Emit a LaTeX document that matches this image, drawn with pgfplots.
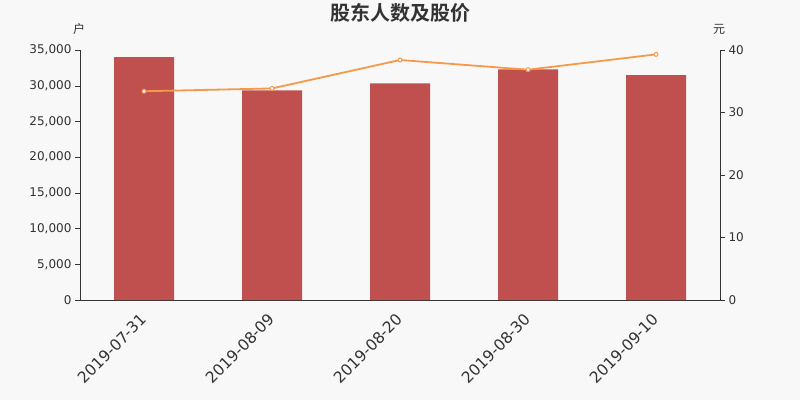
\documentclass[border=0pt]{standalone}
\usepackage{pgfplots}
\pgfplotsset{compat=1.18}
\usepackage{fontspec}
\setmainfont{DejaVu Sans}
\newfontfamily\cjk{Noto Sans CJK SC}[BoldFont={Noto Sans CJK SC Bold}]

\definecolor{bg}{HTML}{F8F8F8}
\definecolor{barred}{HTML}{C0504D}
\definecolor{lineorange}{HTML}{F7994A}
\definecolor{txt}{HTML}{333333}

\begin{document}
\begin{tikzpicture}
\fill[bg] (0,0) rectangle (800pt,400pt);
\useasboundingbox (0,0) rectangle (800pt,400pt);
\node[font=\cjk\bfseries\fontsize{20}{22}\selectfont, text=txt] at (400pt,387pt) {股东人数及股价};
\node[font=\cjk\fontsize{12}{14}\selectfont, text=txt] at (79pt,371pt) {户};
\node[font=\cjk\fontsize{12}{14}\selectfont, text=txt] at (719pt,371pt) {元};

\pgfplotsset{
  base/.style={
    scale only axis, width=640pt, height=250pt,
    at={(80pt,100pt)}, anchor=south west,
    xmin=-0.5, xmax=4.5,
    tick align=outside,
    major tick length=5pt,
    axis line style={txt},
    tick style={txt},
    /pgf/number format/assume math mode=true,
    ticklabel style={text=txt, font=\fontsize{12}{14}\selectfont},
  }
}

\begin{axis}[base,
  axis x line*=bottom, axis y line*=left,
  ymin=0, ymax=35000,
  ytick={0,5000,...,35000},
  yticklabel style={/pgf/number format/1000 sep={,}},
  scaled y ticks=false,
  xtick={0,1,2,3,4},
  xticklabels={2019-07-31,2019-08-09,2019-08-20,2019-08-30,2019-09-10},
  x tick style={draw=none},
  xticklabel style={rotate=45, anchor=north east, font=\fontsize{15.5}{17}\selectfont, xshift=-5pt, yshift=1pt},
  extra x ticks={-0.5,0.5,1.5,2.5,3.5,4.5},
  extra x tick labels={},
  extra x tick style={tick style={draw=txt}},
  ]
\addplot[ybar, bar width=60pt, fill=barred, draw=none]
  coordinates {(0,34020) (1,29350) (2,30330) (3,32290) (4,31500)};
\end{axis}

\begin{axis}[base,
  axis x line=none, axis y line*=right,
  ymin=0, ymax=40,
  ytick={0,10,...,40},
  ]
\addplot[lineorange, line width=1.8pt, mark=*, mark size=2pt,
  mark options={fill=white, draw=lineorange, line width=1pt}]
  coordinates {(0,33.4) (1,33.85) (2,38.4) (3,36.85) (4,39.3)};
\end{axis}
\end{tikzpicture}
\end{document}
